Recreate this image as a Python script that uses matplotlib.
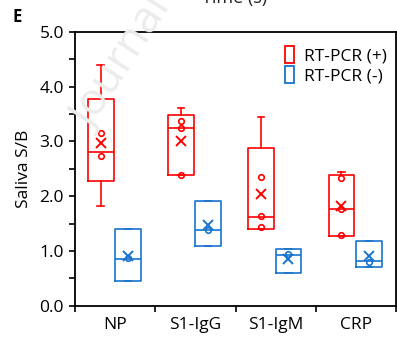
import numpy as np
import matplotlib
matplotlib.use("Agg")
from matplotlib import pyplot as plt
from matplotlib.patches import Patch

plt.rcParams['font.family'] = ['Open Sans', 'DejaVu Sans']

# Saliva S/B per marker, RT-PCR positive (red) and negative (blue)
markers = ['NP', 'S1-IgG', 'S1-IgM', 'CRP']

pos_q1 = [2.27, 2.38, 1.40, 1.28]
pos_med = [2.81, 3.24, 1.62, 1.76]
pos_q3 = [3.77, 3.49, 2.89, 2.39]
pos_lo = [1.82, 2.38, 1.40, 1.28]
pos_hi = [4.39, 3.62, 3.45, 2.44]
pos_mean = [2.98, 3.00, 2.04, 1.83]
pos_pts = [[3.16, 2.74], [3.38, 3.24, 2.38], [2.35, 1.63, 1.44], [2.33, 1.77, 1.30]]

neg_q1 = [0.45, 1.09, 0.60, 0.71]
neg_med = [0.86, 1.38, 0.92, 0.82]
neg_q3 = [1.40, 1.92, 1.03, 1.18]
neg_lo = [0.45, 1.09, 0.60, 0.71]
neg_hi = [1.40, 1.92, 1.03, 1.18]
neg_mean = [0.91, 1.47, 0.86, 0.90]
neg_pts = [[0.87], [1.39], [0.95], [0.80]]

RED = '#ff0000'
BLUE = '#1874cd'
FS = 12.5


def stats(q1, med, q3, lo, hi, mean):
    return [dict(q1=a, med=b, q3=c, whislo=d, whishi=e, mean=f, fliers=[])
            for a, b, c, d, e, f in zip(q1, med, q3, lo, hi, mean)]


fig = plt.figure(figsize=(3.97, 3.38), dpi=100)
ax = fig.add_axes([75 / 397, 1 - 305.7 / 338, 321 / 397, 273.7 / 338])

x = np.arange(len(markers))
x_pos = x + 0.32
x_neg = x + 0.66
w = 0.32

for st, xs, pts, col in [(stats(pos_q1, pos_med, pos_q3, pos_lo, pos_hi, pos_mean), x_pos, pos_pts, RED),
                         (stats(neg_q1, neg_med, neg_q3, neg_lo, neg_hi, neg_mean), x_neg, neg_pts, BLUE)]:
    lw = 1.2
    ax.bxp(st, positions=xs, widths=w, showmeans=True, showfliers=False,
           capwidths=0.08,
           boxprops=dict(color=col, linewidth=lw),
           medianprops=dict(color=col, linewidth=lw),
           whiskerprops=dict(color=col, linewidth=lw),
           capprops=dict(color=col, linewidth=lw),
           meanprops=dict(marker='x', markeredgecolor=col, markersize=7,
                          markeredgewidth=1.4, linestyle='none'),
           manage_ticks=False)
    for xi, p in zip(xs, pts):
        ax.plot([xi] * len(p), p, 'o', mfc='none', mec=col, ms=4, mew=1.2)

ax.set_xlim(0, 4)
ax.set_ylim(0, 5)
ax.set_yticks(np.arange(0, 5.01, 1.0))
ax.set_yticklabels(['%.1f' % v for v in np.arange(0, 5.01, 1.0)])
ax.set_yticks(np.arange(0.5, 5, 1.0), minor=True)
ax.set_xticks([0, 1, 2, 3, 4])
ax.set_xticklabels([])
ax.set_xticks(x + 0.5, minor=True)
ax.set_xticklabels(markers, minor=True)
ax.tick_params(axis='x', which='minor', length=0, pad=8, labelsize=FS)
ax.tick_params(axis='x', which='major', length=4, width=1.2)
ax.tick_params(axis='y', which='both', length=4, width=1.2, labelsize=FS, pad=4)
for s in ax.spines.values():
    s.set_linewidth(1.3)

ax.set_ylabel('Saliva S/B', fontsize=FS, labelpad=5)

handles = [Patch(facecolor='none', edgecolor=RED, linewidth=1.3, label='RT-PCR (+)'),
           Patch(facecolor='none', edgecolor=BLUE, linewidth=1.3, label='RT-PCR (-)')]
ax.legend(handles=handles, loc='upper right', frameon=False, fontsize=FS,
          handlelength=0.5, handleheight=1.1, handletextpad=0.6,
          labelspacing=0.1, borderaxespad=0.1, bbox_to_anchor=(1.0, 0.98))

fig.text(12 / 397, 1 - 17 / 338, 'E', fontsize=12, fontweight='bold', va='center')
fig.text(235 / 397, 1 - 3 / 338, 'Time (s)', fontsize=13, ha='center', va='baseline',
         color='#222222')
fig.text(102 / 397, 1 - 138 / 338, 'Journal Pre-proof', fontsize=32, color='#ececec',
         rotation=57, rotation_mode='anchor', ha='left', va='bottom', zorder=0)

fig.savefig('out.png', dpi=100)
